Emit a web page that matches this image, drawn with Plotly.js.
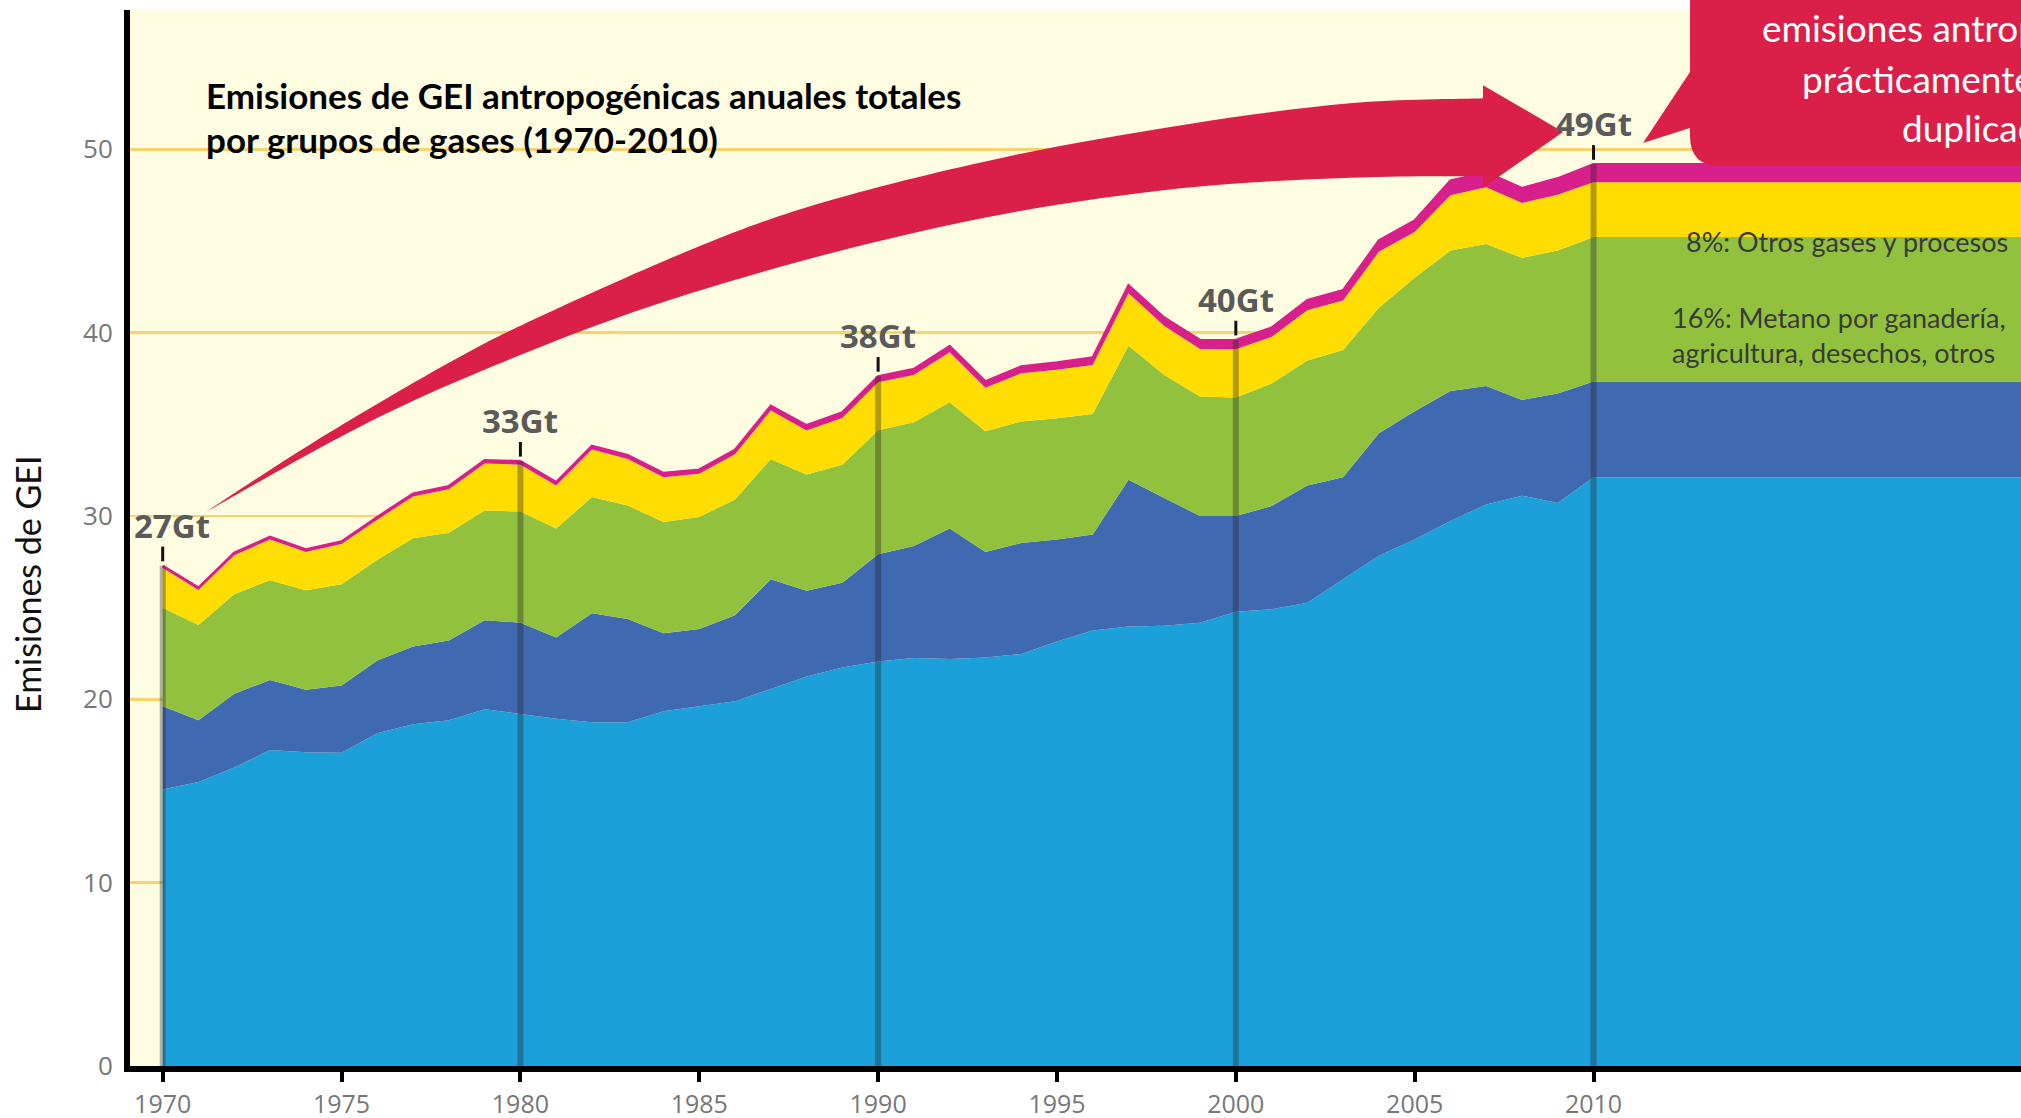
<!DOCTYPE html>
<html>
<head>
<meta charset="utf-8">
<script src="https://cdn.plot.ly/plotly-3.0.1.min.js"></script>
<style>
html,body{margin:0;padding:0;background:#ffffff;}
#chart{width:2021px;height:1118px;}
</style>
</head>
<body>
<div id="chart"></div>
<script>
// ---------------- DATA (GtCO2-eq/año) ----------------
const years = [1970,1971,1972,1973,1974,1975,1976,1977,1978,1979,
               1980,1981,1982,1983,1984,1985,1986,1987,1988,1989,
               1990,1991,1992,1993,1994,1995,1996,1997,1998,1999,
               2000,2001,2002,2003,2004,2005,2006,2007,2008,2009,2010];

// CO2 combustibles fósiles y procesos industriales
const co2Fossil = [15.08,15.49,16.28,17.23,17.12,17.09,18.15,18.64,18.86,19.46,
                   19.20,18.94,18.75,18.75,19.35,19.62,19.89,20.57,21.25,21.74,
                   22.07,22.26,22.20,22.28,22.47,23.15,23.75,23.97,24.02,24.18,
                   24.78,24.92,25.27,26.55,27.83,28.72,29.73,30.63,31.11,30.71,32.12];
// CO2 silvicultura y otros usos del suelo
const co2Folu = [4.54,3.37,4.02,3.83,3.40,3.67,3.97,4.24,4.35,4.86,
                 4.98,4.43,5.95,5.63,4.26,4.21,4.70,5.98,4.67,4.62,
                 5.84,6.11,7.12,5.76,6.06,5.57,5.24,8.01,6.96,5.82,
                 5.22,5.62,6.39,5.57,6.68,6.99,7.09,6.46,5.22,5.97,5.22];
// Metano
const ch4 = [5.38,5.19,5.43,5.43,5.43,5.52,5.49,5.90,5.87,5.98,
             6.06,5.95,6.33,6.19,6.06,6.12,6.31,6.55,6.34,6.44,
             6.77,6.74,6.88,6.58,6.63,6.61,6.58,7.31,6.71,6.52,
             6.47,6.69,6.82,6.93,6.85,7.28,7.66,7.75,7.75,7.80,7.88];
// Óxido nitroso
const n2o = [2.16,1.92,2.13,2.23,2.09,2.19,2.19,2.28,2.38,2.56,
             2.56,2.34,2.60,2.54,2.45,2.35,2.47,2.65,2.41,2.55,
             2.62,2.58,2.73,2.37,2.62,2.65,2.66,2.86,2.67,2.59,
             2.63,2.54,2.74,2.71,3.05,2.50,3.01,3.09,2.99,3.04,2.99];
// Gases fluorados
const fgases = [0.12,0.12,0.13,0.14,0.14,0.14,0.15,0.16,0.17,0.18,
                0.19,0.19,0.20,0.21,0.22,0.23,0.24,0.26,0.28,0.30,
                0.32,0.33,0.34,0.35,0.37,0.39,0.41,0.43,0.46,0.48,
                0.50,0.50,0.55,0.55,0.62,0.62,0.80,0.82,0.81,0.90,0.97];

const seriesNames = ['CO2 combustibles fósiles y procesos industriales',
                     'CO2 silvicultura y otros usos del suelo',
                     'Metano (CH4)','Óxido nitroso (N2O)','Gases fluorados'];
const seriesColors = ['#1CA0D9','#3F69B0','#92C13E','#FFDD00','#D7208C'];

const xTicks = [1970,1975,1980,1985,1990,1995,2000,2005,2010];
const yTicks = [0,10,20,30,40,50];
const milestoneYears = [1970,1980,1990,2000,2010];
const milestoneLabels = ['27Gt','33Gt','38Gt','40Gt','49Gt'];

const titleLines = ['Emisiones de GEI antropogénicas anuales totales',
                    'por grupos de gases (1970-2010)'];
const yTitle = 'Emisiones de GEI';
const noteOthers = '8%: Otros gases y procesos';
const noteMethane = ['16%: Metano por ganadería,','agricultura, desechos, otros'];
const calloutLines = ['emisiones antropogénicas','prácticamente se han','duplicado'];

// ---------------- LAYOUT GEOMETRY ----------------
const W = 2021, H = 1118, ML = 130, MR = 0, MT = 10, MB = 52;
const xRange = [1969.086, 2021.95];
const yRange = [0, 57.6];
const pw = W - ML - MR, ph = H - MT - MB;
const px = x => (x - ML) / pw;           // pixel -> paper x
const py = y => (H - MB - y) / ph;       // pixel -> paper y

// extend the 2010 composition flat to the right edge (as in the original)
const xExt = years.concat([xRange[1] + 1]);
const ext = arr => arr.concat([arr[arr.length - 1]]);

const series = [co2Fossil, co2Folu, ch4, n2o, fgases];
const traces = series.map((s, i) => ({
  type: 'scatter', mode: 'lines', x: xExt, y: ext(s),
  stackgroup: 'gei', name: seriesNames[i],
  fillcolor: seriesColors[i],
  line: {color: seriesColors[i], width: i === 4 ? 2.5 : 0},
  hoverinfo: 'skip', showlegend: false
}));

const totals = years.map((_, i) => series.reduce((a, s) => a + s[i], 0));
const totalAt = yr => totals[years.indexOf(yr)];

// vertical translucent lines at milestone years + small black ticks
milestoneYears.forEach(yr => {
  traces.push({type: 'scatter', mode: 'lines', x: [yr, yr], y: [0, totalAt(yr)],
    line: {color: 'rgba(35,35,35,0.35)', width: 6}, hoverinfo: 'skip', showlegend: false});
  traces.push({type: 'scatter', mode: 'lines', x: [yr, yr], y: [totalAt(yr) + 0.25, totalAt(yr) + 1.05],
    line: {color: '#111', width: 3}, hoverinfo: 'skip', showlegend: false});
});

const annotations = [];
milestoneYears.forEach((yr, i) => {
  annotations.push({x: yr, y: totalAt(yr), xref: 'x', yref: 'y', text: milestoneLabels[i],
    showarrow: false, yanchor: 'bottom', xanchor: 'center', yshift: 16, xshift: i === 0 ? 9 : 0,
    font: {family: 'Open Sans, sans-serif', size: 33, color: '#5a5a5a', weight: 700}});
});
annotations.push({xref: 'paper', yref: 'paper', x: px(204), y: py(95), xanchor: 'left', yanchor: 'middle',
  text: '<b>' + titleLines[0] + '</b>', showarrow: false, font: {family: 'Lato, sans-serif', size: 35, color: '#000'}});
annotations.push({xref: 'paper', yref: 'paper', x: px(204), y: py(139), xanchor: 'left', yanchor: 'middle',
  text: '<b>' + titleLines[1] + '</b>', showarrow: false, font: {family: 'Lato, sans-serif', size: 35, color: '#000'}});
annotations.push({xref: 'paper', yref: 'paper', x: px(28), y: py(585), xanchor: 'center', yanchor: 'middle',
  textangle: -90, text: yTitle, showarrow: false, font: {family: 'Lato, sans-serif', size: 34, color: '#111'}});
annotations.push({xref: 'paper', yref: 'paper', x: px(1684), y: py(241), xanchor: 'left', yanchor: 'middle',
  text: noteOthers, showarrow: false, font: {family: 'Lato, sans-serif', size: 27, color: '#3a3a3a'}});
annotations.push({xref: 'paper', yref: 'paper', x: px(1670), y: py(317), xanchor: 'left', yanchor: 'middle',
  text: noteMethane[0], showarrow: false, font: {family: 'Lato, sans-serif', size: 27, color: '#3a3a3a'}});
annotations.push({xref: 'paper', yref: 'paper', x: px(1670), y: py(352), xanchor: 'left', yanchor: 'middle',
  text: noteMethane[1], showarrow: false, font: {family: 'Lato, sans-serif', size: 27, color: '#3a3a3a'}});
const calloutX = [1760, 1800, 1900], calloutY = [27, 79, 127];
calloutLines.forEach((t, i) => {
  annotations.push({xref: 'paper', yref: 'paper', x: px(calloutX[i]), y: py(calloutY[i]), xanchor: 'left',
    yanchor: 'middle', text: t, showarrow: false, font: {family: 'Lato, sans-serif', size: 37, color: '#ffffff'}});
});

// ---------------- ARROW (decoration, axis coordinates) ----------------
const arrowTop = [[1971.21,30.23],[1974.20,34.0],[1977.95,38.3],[1980.46,40.8],[1985.05,44.75],
                  [1988.62,47.2],[1993.60,49.6],[1998.61,51.36],[2003.19,52.51],[2006.91,52.78]];
const arrowBottom = [[2006.91,48.55],[2003.19,48.45],[1998.61,47.9],[1993.60,46.5],[1988.62,44.3],
                     [1983.62,41.43],[1979.21,38.15],[1975.46,34.82],[1971.21,30.23]];
const arrowHead = [[2006.91,53.5],[2009.15,50.95],[2006.91,47.9]];
function smooth(pts) {
  let d = '';
  for (let i = 0; i < pts.length - 1; i++) {
    const p0 = pts[i - 1] || pts[i], p1 = pts[i], p2 = pts[i + 1], p3 = pts[i + 2] || p2;
    const c1 = [p1[0] + (p2[0] - p0[0]) / 6, p1[1] + (p2[1] - p0[1]) / 6];
    const c2 = [p2[0] - (p3[0] - p1[0]) / 6, p2[1] - (p3[1] - p1[1]) / 6];
    d += ` C${c1[0]},${c1[1]} ${c2[0]},${c2[1]} ${p2[0]},${p2[1]}`;
  }
  return d;
}
let arrowPath = `M${arrowTop[0][0]},${arrowTop[0][1]}` + smooth(arrowTop);
arrowHead.forEach(p => { arrowPath += ` L${p[0]},${p[1]}`; });
arrowPath += ` L${arrowBottom[0][0]},${arrowBottom[0][1]}` + smooth(arrowBottom) + ' Z';

// callout box (paper coordinates, pixel based)
const P = (x, y) => `${px(x)},${py(y)}`;
const calloutPath = `M${P(1690,-60)} L${P(1690,72)} L${P(1643,143)} L${P(1690,128)} L${P(1690,136)} ` +
  `Q${P(1690,166)} ${P(1720,166)} L${P(2100,166)} L${P(2100,-60)} Z`;

const shapes = [
  {type: 'path', xref: 'x', yref: 'y', path: arrowPath, fillcolor: '#DA2049', line: {width: 0}, layer: 'above'},
  {type: 'path', xref: 'paper', yref: 'paper', path: calloutPath, fillcolor: '#DA2049', line: {width: 0}, layer: 'above'}
];

const layout = {
  width: W, height: H,
  margin: {l: ML, r: MR, t: MT, b: MB, pad: 0},
  paper_bgcolor: '#ffffff', plot_bgcolor: '#FEFDE2',
  showlegend: false, hovermode: false,
  xaxis: {range: xRange, tickvals: xTicks, ticktext: xTicks.map(String), showgrid: false, zeroline: false,
    showline: true, linecolor: '#000', linewidth: 6, ticks: 'outside', ticklen: 10, tickwidth: 4, tickcolor: '#000',
    ticklabelstandoff: 1,
    tickfont: {family: 'Open Sans, sans-serif', size: 25, color: '#777'}},
  yaxis: {range: yRange, tickvals: yTicks, ticktext: yTicks.map(String), showgrid: true, gridcolor: '#F6D36C',
    gridwidth: 2.5, zeroline: false, showline: true, linecolor: '#000', linewidth: 6, ticks: '',
    ticklabelstandoff: 6,
    tickfont: {family: 'Open Sans, sans-serif', size: 26, color: '#777'}},
  annotations: annotations,
  shapes: shapes
};

Plotly.newPlot('chart', traces, layout, {displayModeBar: false, staticPlot: true});
</script>
</body>
</html>
